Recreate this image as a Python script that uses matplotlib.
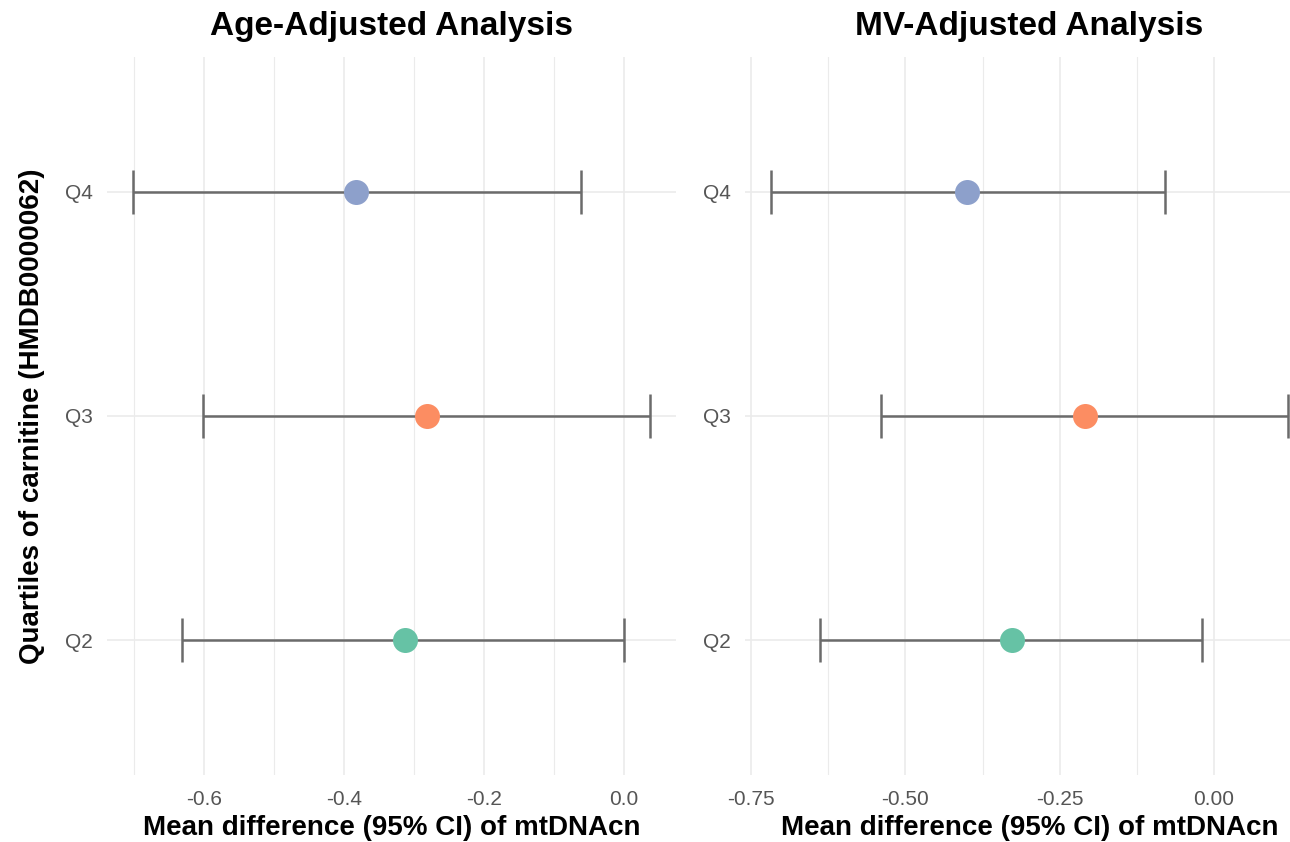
import matplotlib
matplotlib.use("Agg")
import matplotlib.pyplot as plt
import matplotlib.ticker as mticker

# data
quartiles = ["Q2", "Q3", "Q4"]
point_colors = ["#66C2A5", "#FC8D62", "#8DA0CB"]

age_est = [-0.313, -0.282, -0.382]
age_low = [-0.631, -0.601, -0.701]
age_high = [0.000, 0.037, -0.061]
age_ticks = [-0.6, -0.4, -0.2, 0.0]
age_tick_labels = ["-0.6", "-0.4", "-0.2", "0.0"]

mv_est = [-0.328, -0.209, -0.400]
mv_low = [-0.638, -0.539, -0.718]
mv_high = [-0.020, 0.120, -0.080]
mv_ticks = [-0.75, -0.50, -0.25, 0.00]
mv_tick_labels = ["-0.75", "-0.50", "-0.25", "0.00"]

titles = ["Age-Adjusted Analysis", "MV-Adjusted Analysis"]
x_label = "Mean difference (95% CI) of mtDNAcn"
y_label = "Quartiles of carnitine (HMDB0000062)"

plt.rcParams["font.family"] = ["Liberation Sans", "DejaVu Sans"]

W, H = 1290, 842
GRID = "#EBEBEB"
TICK_COLOR = "#555555"


def draw_panel(ax, est, low, high, ticks, tick_labels) -> None:
    ypos = list(range(1, len(quartiles) + 1))
    for y, e, lo, hi, c in zip(ypos, est, low, high, point_colors):
        ax.errorbar(e, y, xerr=[[e - lo], [hi - e]], fmt="none",
                    ecolor="#6B6B6B", elinewidth=1.8, capsize=15.8,
                    capthick=1.8, zorder=2)
        ax.plot(e, y, "o", ms=18, color=c, mec="none", zorder=3)

    # ggplot-like 5% expansion
    lo_all, hi_all = min(low), max(high)
    pad = 0.05 * (hi_all - lo_all)
    ax.set_xlim(lo_all - pad, hi_all + pad)
    ax.set_ylim(0.4, len(quartiles) + 0.6)

    ax.set_xticks(ticks)
    ax.set_xticklabels(tick_labels)
    step = ticks[1] - ticks[0]
    ax.xaxis.set_minor_locator(mticker.MultipleLocator(step / 2))
    ax.set_yticks(ypos)
    ax.set_yticklabels(quartiles)

    ax.grid(True, which="major", color=GRID, lw=1.2)
    ax.grid(True, which="minor", axis="x", color=GRID, lw=0.8)
    ax.set_axisbelow(True)
    for s in ax.spines.values():
        s.set_visible(False)
    ax.tick_params(which="both", length=0, labelsize=15, labelcolor=TICK_COLOR)
    ax.tick_params(axis="x", pad=11)
    ax.tick_params(axis="y", pad=10)


fig = plt.figure(figsize=(W / 100, H / 100), dpi=100)

panel_w = 569 / W
bottom = 1 - 775 / H
height = (775 - 57) / H
ax1 = fig.add_axes([107 / W, bottom, panel_w, height])
ax2 = fig.add_axes([745 / W, bottom, panel_w, height])

draw_panel(ax1, age_est, age_low, age_high, age_ticks, age_tick_labels)
draw_panel(ax2, mv_est, mv_low, mv_high, mv_ticks, mv_tick_labels)

for ax, t in zip([ax1, ax2], titles):
    pos = ax.get_position()
    cx = pos.x0 + pos.width / 2
    fig.text(cx, 1 - 26 / H, t, ha="center", va="center",
             fontsize=24, fontweight="bold")
    fig.text(cx, 1 - 835 / H, x_label, ha="center", va="baseline",
             fontsize=20, fontweight="bold")

fig.text(32 / W, 1 - 416 / H, y_label, rotation=90, ha="center", va="center",
         fontsize=20, fontweight="bold")

fig.savefig("out.png", dpi=100, facecolor="white")
